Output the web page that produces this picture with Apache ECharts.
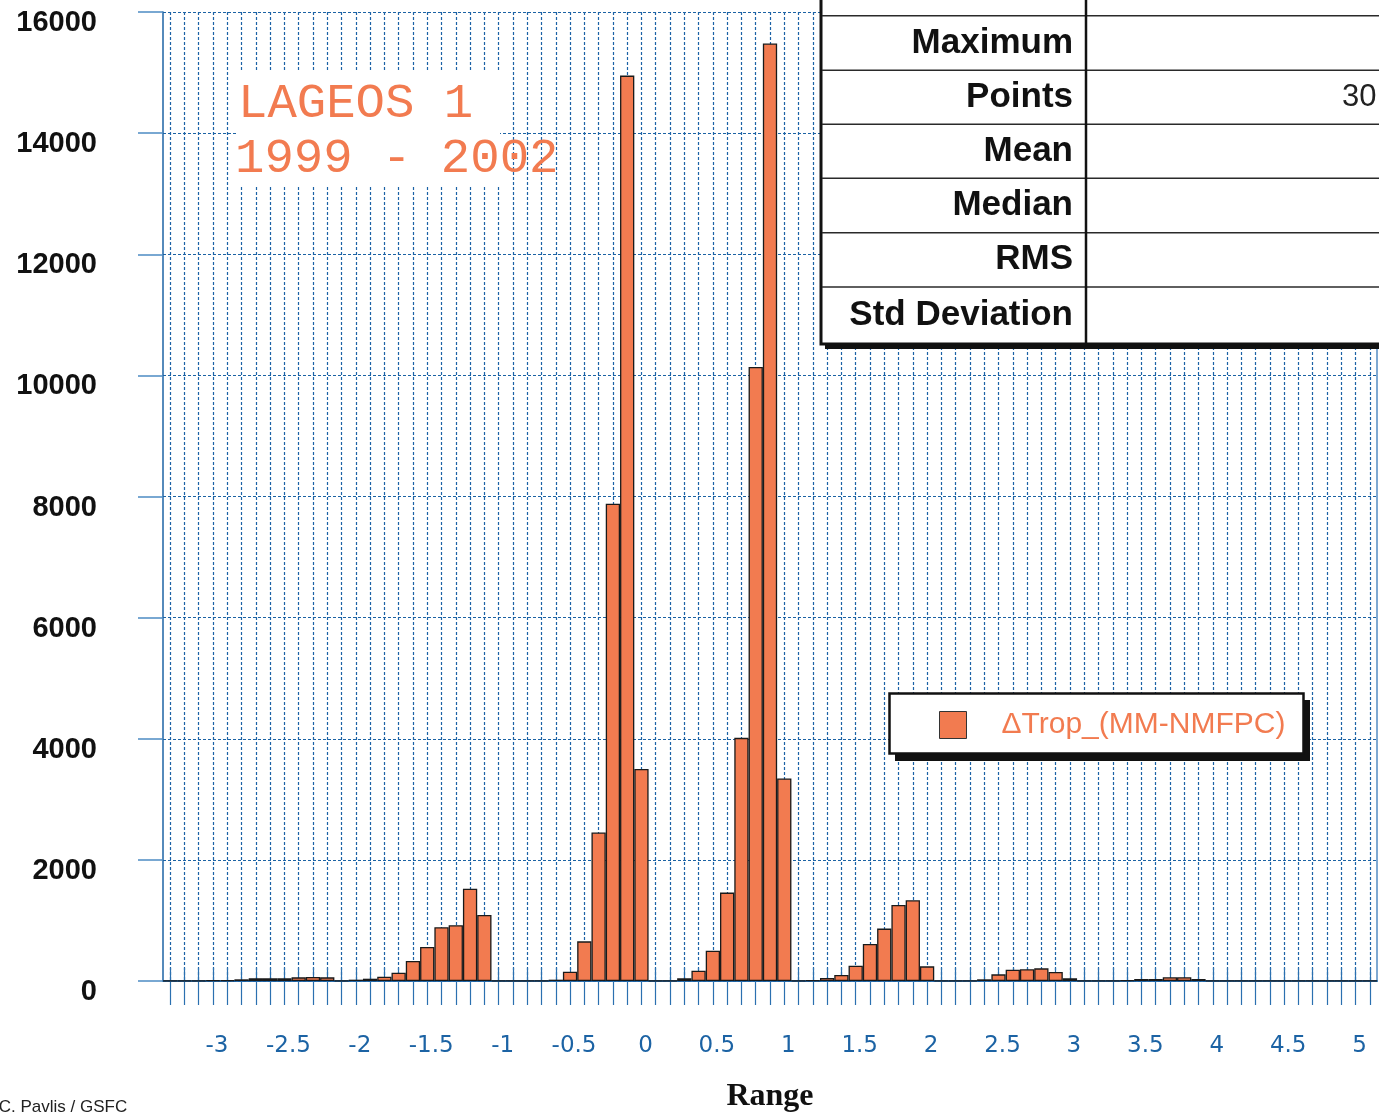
<!DOCTYPE html>
<html>
<head>
<meta charset="utf-8">
<title>LAGEOS 1 1999 - 2002 ΔTrop_(MM-NMFPC)</title>
<script src="https://cdn.jsdelivr.net/npm/echarts@6/dist/echarts.min.js"></script>
<style>
  html, body { margin: 0; padding: 0; background: #ffffff; }
  #chart { width: 1379px; height: 1115px; }
</style>
</head>
<body>
<div id="chart"></div>
<script>
// Histogram bins (bin centres, 0.1 wide)
const binLabels = [
  '-3.3','-3.2','-3.1','-3','-2.9','-2.8','-2.7','-2.6','-2.5','-2.4',
  '-2.3','-2.2','-2.1','-2','-1.9','-1.8','-1.7','-1.6','-1.5','-1.4',
  '-1.3','-1.2','-1.1','-1','-0.9','-0.8','-0.7','-0.6','-0.5','-0.4',
  '-0.3','-0.2','-0.1','0','0.1','0.2','0.3','0.4','0.5','0.6',
  '0.7','0.8','0.9','1','1.1','1.2','1.3','1.4','1.5','1.6',
  '1.7','1.8','1.9','2','2.1','2.2','2.3','2.4','2.5','2.6',
  '2.7','2.8','2.9','3','3.1','3.2','3.3','3.4','3.5','3.6',
  '3.7','3.8','3.9','4','4.1','4.2','4.3','4.4','4.5','4.6',
  '4.7','4.8','4.9','5','5.1'
];

// Counts per bin
const tropCounts = [
  3, 4, 6, 10, 14, 28, 44, 44, 44, 60,
  66, 60, 5, 22, 38, 72, 138, 330, 562, 887,
  920, 1525, 1090, 3, 1, 1, 3, 22, 154, 655,
  2451, 7880, 14950, 3500, 2, 3, 44, 171, 501, 1460,
  4015, 10140, 15480, 3343, 2, 10, 50, 100, 253, 611,
  865, 1256, 1333, 242, 3, 2, 5, 28, 110, 187,
  193, 209, 149, 44, 3, 2, 3, 10, 33, 33,
  61, 61, 33, 5, 2, 1, 1, 1, 1, 2,
  4, 1, 2, 4, 1
];

const seriesName = 'ΔTrop_(MM-NMFPC)';
const titleLines = ['LAGEOS 1', '1999 - 2002'];
const statRows = ['Minimum', 'Maximum', 'Points', 'Mean', 'Median', 'RMS', 'Std Deviation'];
const pointsValue = '30';
const credit = 'E. C. Pavlis / GSFC';
const axisTitle = 'Range';

const BLUE = '#1c63a4';
const ORANGE = '#f27b50';
const INK = '#111111';

const chart = echarts.init(document.getElementById('chart'), null, { renderer: 'canvas' });

// statistics table (top right), drawn with a hard drop shadow
const rowLines = [15.7, 70.3, 124.3, 178.3, 232.7, 287];
const rowCentres = [-11.5, 43, 97.3, 151.3, 205.5, 259.8, 315];
const TZ = 110;
const tableParts = [
  { type: 'rect', z: TZ, shape: { x: 825, y: -40, width: 620, height: 389 },
    style: { fill: INK } },
  { type: 'rect', z: TZ + 1, shape: { x: 821, y: -45, width: 620, height: 389 },
    style: { fill: '#ffffff', stroke: INK, lineWidth: 3 } }
];
rowLines.forEach(function (y) {
  tableParts.push({ type: 'line', z: TZ + 2, shape: { x1: 822, y1: y, x2: 1400, y2: y },
    style: { stroke: '#2a2a2a', lineWidth: 1.5 } });
});
tableParts.push({ type: 'line', z: TZ + 2, shape: { x1: 1086, y1: -45, x2: 1086, y2: 344 },
  style: { stroke: INK, lineWidth: 2.5 } });
statRows.forEach(function (name, i) {
  tableParts.push({ type: 'text', z: TZ + 3, x: 1073, y: rowCentres[i],
    style: { text: name, align: 'right', verticalAlign: 'middle', fill: INK,
             font: 'bold 35px "Liberation Sans", Arial, sans-serif' } });
});
tableParts.push({ type: 'text', z: TZ + 3, x: 1342, y: rowCentres[2],
  style: { text: pointsValue, align: 'left', verticalAlign: 'middle', fill: '#222222',
           font: '31px "Liberation Sans", Arial, sans-serif' } });

const option = {
  animation: false,
  backgroundColor: '#ffffff',
  grid: { left: 163, right: 2, top: 12, bottom: 134, containLabel: false, outerBoundsMode: 'none' },
  legend: {
    data: [seriesName],
    left: 889, top: 693,
    padding: [17, 17, 17, 50],
    itemWidth: 27, itemHeight: 27,
    icon: 'rect',
    backgroundColor: 'transparent',
    borderWidth: 0,
    itemStyle: { borderColor: '#333333', borderWidth: 1 },
    textStyle: { color: ORANGE, fontSize: 30, fontFamily: '"Liberation Sans", Arial, sans-serif',
                 padding: [0, 0, 0, 30] }
  },
  xAxis: [
    {
      type: 'category',
      data: binLabels,
      boundaryGap: true,
      position: 'bottom',
      name: axisTitle,
      nameLocation: 'middle',
      nameGap: 100,
      nameTextStyle: { color: INK, fontSize: 32, fontWeight: 'bold',
                       fontFamily: '"Liberation Serif", "Times New Roman", serif' },
      axisLine: { show: true, lineStyle: { color: BLUE, width: 1.5 } },
      axisTick: { show: true, alignWithLabel: true, interval: 0, length: 24,
                  lineStyle: { color: '#2b70b0', width: 1.2 } },
      axisLabel: {
        interval: function (index, value) {
          const v = Number(value) * 2;
          return Math.abs(v - Math.round(v)) < 1e-9;
        },
        margin: 54,
        color: BLUE,
        fontSize: 23,
        fontFamily: '"DejaVu Sans", sans-serif',
        padding: [0, 0, 0, 8]
      },
      splitLine: { show: true, interval: 0, alignWithLabel: true,
                   lineStyle: { color: '#1b62a6', width: 1.2, type: [3, 2] } }
    },
    {
      type: 'category',
      data: binLabels,
      boundaryGap: true,
      position: 'top',
      axisLine: { show: true, lineStyle: { color: BLUE, width: 1.5 } },
      axisTick: { show: true, alignWithLabel: true, interval: 0, length: 13, inside: false,
                  lineStyle: { color: '#2b70b0', width: 1.2 } },
      axisLabel: { show: false },
      splitLine: { show: false }
    }
  ],
  yAxis: [
    {
      type: 'value',
      min: 0, max: 16000, interval: 2000,
      position: 'left',
      axisLine: { show: true, lineStyle: { color: BLUE, width: 1.5 } },
      axisTick: { show: true, length: 25, lineStyle: { color: '#4d8cc4', width: 1.5 } },
      axisLabel: {
        formatter: function (v) { return String(v); },
        margin: 66,
        color: INK,
        fontSize: 29,
        fontWeight: 'bold',
        fontFamily: '"Liberation Sans", Arial, sans-serif',
        verticalAlign: 'top',
        lineHeight: 22
      },
      splitLine: { show: true, lineStyle: { color: BLUE, width: 1, type: [3, 2] } }
    },
    {
      type: 'value',
      min: 0, max: 16000, interval: 2000,
      position: 'right',
      axisLine: { show: true, lineStyle: { color: '#7fa9d2', width: 2 } },
      axisTick: { show: false },
      axisLabel: { show: false },
      splitLine: { show: false }
    }
  ],
  series: [
    {
      name: seriesName,
      type: 'bar',
      xAxisIndex: 0,
      yAxisIndex: 0,
      data: tropCounts,
      barCategoryGap: '0%',
      itemStyle: { color: ORANGE, borderColor: '#1a1a1a', borderWidth: 1.3 },
      emphasis: { disabled: true }
    }
  ],
  graphic: [
    // white panel behind the satellite / period caption
    { type: 'rect', z: 100, shape: { x: 236, y: 72, width: 264, height: 115 },
      style: { fill: '#ffffff' } },
    { type: 'text', z: 101, x: 238, y: 104,
      style: { text: titleLines[0], verticalAlign: 'middle', fill: ORANGE,
               font: '49px "Liberation Mono", "Courier New", monospace' } },
    { type: 'text', z: 101, x: 235, y: 159,
      style: { text: titleLines[1], verticalAlign: 'middle', fill: ORANGE,
               font: '49px "Liberation Mono", "Courier New", monospace' } },
    // legend frame with hard shadow
    { type: 'rect', z: 3, shape: { x: 895, y: 700, width: 415, height: 61 },
      style: { fill: INK } },
    { type: 'rect', z: 3, shape: { x: 889.5, y: 693.5, width: 414, height: 60 },
      style: { fill: '#ffffff', stroke: INK, lineWidth: 2.5 } }
  ].concat(tableParts).concat([
    { type: 'text', z: 101, x: -22, y: 1107,
      style: { text: credit, verticalAlign: 'middle', fill: '#222222',
               font: '17px "Liberation Sans", Arial, sans-serif' } }
  ])
};

chart.setOption(option);
</script>
</body>
</html>
